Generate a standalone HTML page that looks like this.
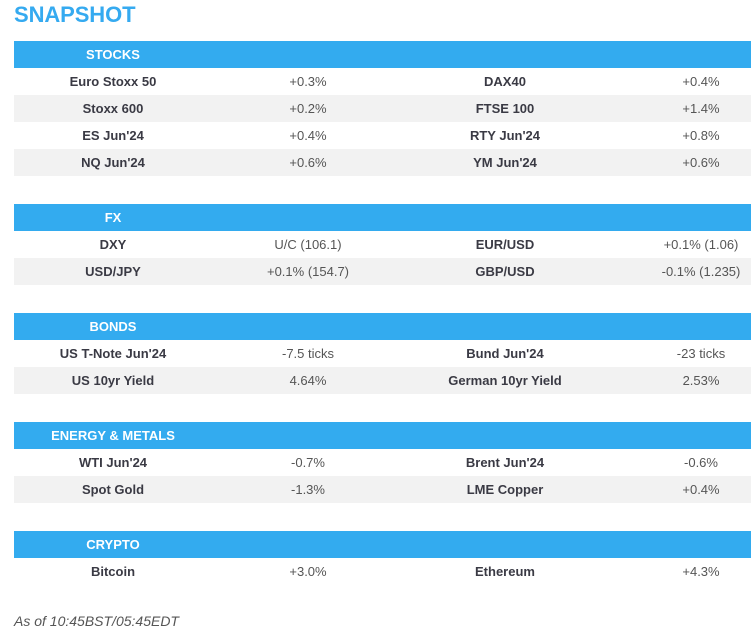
<!DOCTYPE html>
<html><head><meta charset="utf-8"><style>
body{margin:0;width:751px;height:630px;overflow:hidden;background:#fff;font-family:"Liberation Sans",Arial,sans-serif;position:relative}
.t{position:absolute;left:14px;top:2px;font-size:22px;font-weight:bold;color:#35aaf0;letter-spacing:-0.1px}
.h{position:absolute;left:14px;width:737px;height:27px;background:#33abef}
.h span{position:absolute;width:198px;left:0;text-align:center;line-height:27px;color:#fff;font-weight:bold;font-size:13px}
.r{position:absolute;left:14px;width:737px;height:27px;font-size:13px;line-height:27px;color:#333}
.g{background:#f2f2f2}
.r span{position:absolute;text-align:center}
.a{left:0;width:198px;font-weight:bold;color:#3a3a44}
.b{left:198px;width:192px;color:#555}
.c{left:390px;width:202px;font-weight:bold;color:#3a3a44}
.d{left:592px;width:190px;color:#555}
.f{position:absolute;left:14px;top:613px;font-size:14px;font-style:italic;color:#555}
</style></head><body>
<div class="t">SNAPSHOT</div>

<div class="h" style="top:41px"><span>STOCKS</span></div>
<div class="r" style="top:68px"><span class="a">Euro Stoxx 50</span><span class="b">+0.3%</span><span class="c">DAX40</span><span class="d">+0.4%</span></div>
<div class="r g" style="top:95px"><span class="a">Stoxx 600</span><span class="b">+0.2%</span><span class="c">FTSE 100</span><span class="d">+1.4%</span></div>
<div class="r" style="top:122px"><span class="a">ES Jun'24</span><span class="b">+0.4%</span><span class="c">RTY Jun'24</span><span class="d">+0.8%</span></div>
<div class="r g" style="top:149px"><span class="a">NQ Jun'24</span><span class="b">+0.6%</span><span class="c">YM Jun'24</span><span class="d">+0.6%</span></div>

<div class="h" style="top:204px"><span>FX</span></div>
<div class="r" style="top:231px"><span class="a">DXY</span><span class="b">U/C (106.1)</span><span class="c">EUR/USD</span><span class="d">+0.1% (1.06)</span></div>
<div class="r g" style="top:258px"><span class="a">USD/JPY</span><span class="b">+0.1% (154.7)</span><span class="c">GBP/USD</span><span class="d">-0.1% (1.235)</span></div>

<div class="h" style="top:313px"><span>BONDS</span></div>
<div class="r" style="top:340px"><span class="a">US T-Note Jun'24</span><span class="b">-7.5 ticks</span><span class="c">Bund Jun'24</span><span class="d">-23 ticks</span></div>
<div class="r g" style="top:367px"><span class="a">US 10yr Yield</span><span class="b">4.64%</span><span class="c">German 10yr Yield</span><span class="d">2.53%</span></div>

<div class="h" style="top:422px"><span>ENERGY &amp; METALS</span></div>
<div class="r" style="top:449px"><span class="a">WTI Jun'24</span><span class="b">-0.7%</span><span class="c">Brent Jun'24</span><span class="d">-0.6%</span></div>
<div class="r g" style="top:476px"><span class="a">Spot Gold</span><span class="b">-1.3%</span><span class="c">LME Copper</span><span class="d">+0.4%</span></div>

<div class="h" style="top:531px"><span>CRYPTO</span></div>
<div class="r" style="top:558px"><span class="a">Bitcoin</span><span class="b">+3.0%</span><span class="c">Ethereum</span><span class="d">+4.3%</span></div>

<div class="f">As of 10:45BST/05:45EDT</div>
</body></html>
